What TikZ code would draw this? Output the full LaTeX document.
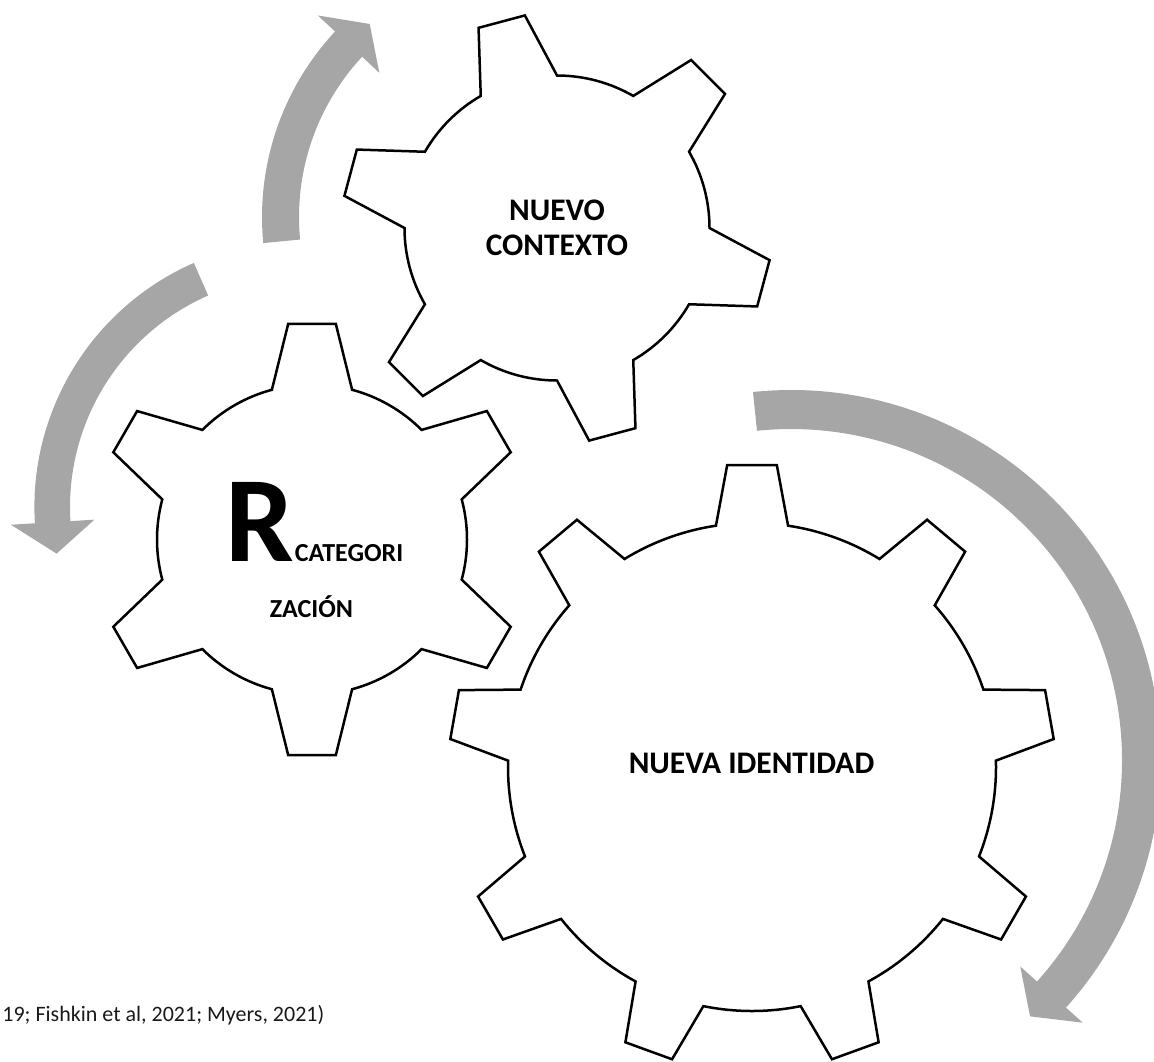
\documentclass[tikz,border=0pt]{standalone}
\usepackage{fontspec}
\setmainfont{Carlito}
\usepackage{xcolor}
\definecolor{arrowgray}{RGB}{166,166,166}

% gear outline: centre, teeth, first tooth angle, body radius, tip radius, base half angle, tip half angle
\newcommand{\drawgear}[7]{%
  \pgfmathsetmacro{\gstep}{360/#2}
  \pgfmathtruncatemacro{\glast}{#2-1}
  \begin{scope}[shift={#1}]
    \draw[gearline] ({#3-#6}:#4)
      \foreach \k [evaluate=\k as \a using #3+\k*\gstep] in {0,...,\glast}{
        -- ({\a-#7}:#5) -- ({\a+#7}:#5) -- ({\a+#6}:#4)
        arc[start angle={\a+#6}, end angle={\a+\gstep-#6}, radius=#4]
      } -- cycle;
  \end{scope}}

% curved arrow: centre, inner radius, outer radius, tail angle, head angle, tip angle, barb
\newcommand{\circarrow}[7]{%
  \begin{scope}[shift={#1}]
    \fill[arrowfill] (#4:#3) arc[start angle=#4, end angle=#5, radius=#3]
      -- (#5:{#3+#7}) -- (#6:{(#2+#3)/2}) -- (#5:{#2-#7}) -- (#5:#2)
      arc[start angle=#5, end angle=#4, radius=#2] -- cycle;
  \end{scope}}

\begin{document}
\begin{tikzpicture}[x=0.5pt,y=0.5pt,
    gearline/.style={line width=1.25pt,fill=white,line join=miter},
    arrowfill/.style={arrowgray},
    label/.style={inner sep=0,font=\bfseries\fontsize{15.7}{17.5}\selectfont,align=center}]
    \useasboundingbox (0,0) rectangle (1154,-1061);

    % arrows
    \circarrow{(534,-217)}{235}{272}{185.5}{137}{130.4}{23.5}
    \circarrow{(301,-507)}{231}{266.6}{113.7}{183.5}{190.8}{24}
    \circarrow{(791,-760)}{331}{370}{95.9}{-42}{-47}{22.5}

    % gears
    \drawgear{(557,-228)}{6}{105}{152.5}{215}{15}{6.4}
    \drawgear{(312,-539.5)}{6}{90}{155}{217}{15}{6.3}
    \drawgear{(752,-767)}{9}{90}{244}{303}{8.5}{4.7}

    % texts
    \node[label] (ctx) at (557,-227.5) {NUEVO\\CONTEXTO};
    \node[inner sep=0,anchor=base west,font=\bfseries\fontsize{61}{61}\selectfont] (rbig) at (225,-561) {R};
    \node[inner sep=0,anchor=base west,font=\bfseries\fontsize{13}{13}\selectfont] (cat) at (rbig.base east) {CATEGORI};
    \node[inner sep=0,anchor=base,font=\bfseries\fontsize{13}{13}\selectfont] (zac) at (311.5,-617) {ZACIÓN};
    \node[label] (ident) at (751.5,-763) {NUEVA IDENTIDAD};

    % source
    \node[inner sep=0,anchor=base west,font=\fontsize{11}{13}\selectfont,text=black!90] (src) at (2,-1021) {19; Fishkin et al, 2021; Myers, 2021)};
\end{tikzpicture}
\end{document}
